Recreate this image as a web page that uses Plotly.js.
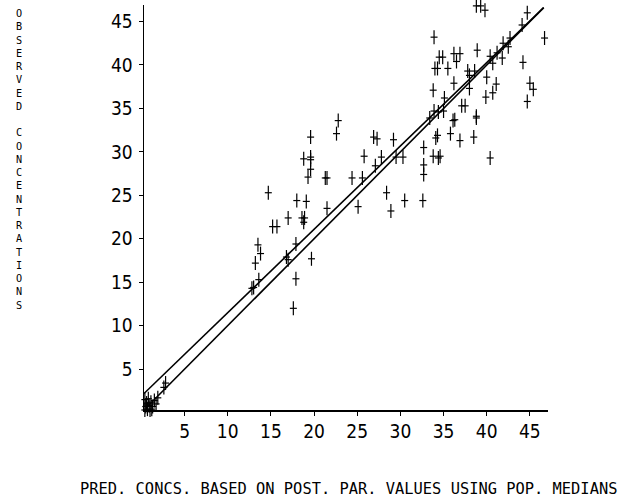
<!DOCTYPE html>
<html>
<head>
<meta charset="utf-8">
<script src="https://cdn.plot.ly/plotly-3.0.1.min.js"></script>
<style>html,body{margin:0;padding:0;background:#fff;}</style>
</head>
<body>
<div id="chart" style="width:622px;height:504px;"></div>
<script>
// Predicted (x) vs observed (y) concentrations
const predX = [
  0.4,0.5,0.7,0.6,0.9,1.0,1.1,1.3,1.5,1.7,0.4,1.9,0.8,1.2,2.8,2.6,
  22.8,22.6,19.6,25.8,18.8,19.6,19.6,19.6,19.3,21.3,21.5,24.4,25.6,14.7,18.0,19.1,21.5,25.1,
  17.0,18.6,18.9,18.8,15.2,15.7,13.5,17.9,13.8,16.8,17.0,19.7,13.2,13.6,17.9,12.8,13.0,17.6,
  33.9,34.5,34.9,36.2,36.9,36.5,34.0,34.3,35.5,36.2,33.8,35.1,
  38.8,39.3,39.8,44.7,44.1,46.7,42.7,41.9,42.5,38.9,41.2,40.4,41.8,40.7,44.2,37.8,38.6,38.0,
  40.0,38.0,41.1,45.0,45.4,40.7,39.9,37.1,37.5,44.7,
  33.9,34.4,35.0,33.4,36.1,36.3,38.8,38.8,
  26.9,27.3,29.2,34.3,34.1,35.8,36.9,38.5,32.7,
  27.8,29.5,30.3,33.8,34.4,34.6,40.4,
  27.1,32.7,32.7,28.4,30.5,32.6,28.9
];
const obsY = [
  0.3,0.7,0.4,1.1,0.8,0.3,1.2,0.7,1.4,1.0,1.5,1.7,1.6,0.4,3.4,2.9,
  33.6,32.1,31.7,29.5,29.2,29.4,29.1,28.0,27.1,27.0,27.0,27.0,27.0,25.3,24.4,24.3,23.5,23.7,
  22.4,22.4,22.4,21.9,21.4,21.4,19.3,19.4,18.3,17.9,17.6,17.7,17.2,15.3,15.4,14.3,14.4,12.0,
  43.2,40.9,40.9,41.3,41.3,40.4,39.6,39.6,39.6,37.9,37.1,36.2,
  46.8,46.8,46.3,46.0,44.6,43.1,43.1,42.5,42.1,41.7,41.4,41.0,40.8,40.2,40.3,39.3,39.3,38.8,
  38.6,37.3,37.8,37.9,37.2,36.8,36.3,35.3,35.3,35.8,
  34.7,34.6,34.7,33.9,33.6,33.7,34.1,33.9,
  31.7,31.5,31.4,31.9,31.6,32.1,31.3,31.7,30.5,
  29.4,29.4,29.4,29.5,29.3,29.5,29.3,
  28.4,28.5,27.4,25.3,24.4,24.4,23.2
];
// Reference lines: identity line and fitted line
const identityX = [0.7, 46.6];
const identityY = [0.7, 46.6];
const fitX = [0.3, 46.6];
const fitY = [2.2, 46.6];
const tickVals = [5,10,15,20,25,30,35,40,45];
const tickText = ['5','10','15','20','25','30','35','40','45'];
const xTitle = 'PRED. CONCS. BASED ON POST. PAR. VALUES USING POP. MEDIANS';
const yTitle = 'OBSERVED CONCENTRATIONS';

const yTitleStacked = yTitle.split('').map(c => c === ' ' ? '\u00a0' : c).join('<br>');

const traces = [
  {x: identityX, y: identityY, mode: 'lines', line: {color: '#000', width: 1.6}, hoverinfo: 'skip'},
  {x: fitX, y: fitY, mode: 'lines', line: {color: '#000', width: 1.6}, hoverinfo: 'skip'},
  {x: predX, y: obsY, mode: 'markers', cliponaxis: false,
   marker: {symbol: 'line-ns', size: 10, line: {color: '#000', width: 1.2}}},
  {x: predX, y: obsY, mode: 'markers', cliponaxis: false,
   marker: {symbol: 'line-ew', size: 5, line: {color: '#000', width: 1.2}}}
];

const axisCommon = {
  showline: true, linecolor: '#000', linewidth: 1.5,
  showgrid: false, zeroline: false,
  ticks: 'outside', ticklen: 4, tickwidth: 1, tickcolor: '#000',
  tickmode: 'array', tickvals: tickVals, ticktext: tickText,
  tickfont: {family: '"Liberation Sans Narrow", "DejaVu Sans Condensed", "DejaVu Sans Mono", monospace', size: 19, color: '#000'}
};

const layout = {
  width: 622, height: 504,
  margin: {l: 144, r: 74, t: 5, b: 94},
  paper_bgcolor: '#fff', plot_bgcolor: '#fff',
  showlegend: false,
  xaxis: Object.assign({}, axisCommon, {range: [0.3, 47.1], ticklabelstandoff: 0}),
  yaxis: Object.assign({}, axisCommon, {range: [0.3, 46.9], ticklabelstandoff: 2}),
  annotations: [
    {text: xTitle, xref: 'paper', yref: 'paper', x: 0.507, y: -0.195,
     xanchor: 'center', yanchor: 'middle', showarrow: false,
     font: {family: '"DejaVu Sans Mono", monospace', size: 15.4, color: '#000'}},
    {text: yTitleStacked, xref: 'paper', yref: 'paper', x: -0.307, y: 0.618,
     xanchor: 'center', yanchor: 'middle', showarrow: false, align: 'center',
     font: {family: '"DejaVu Sans Mono", monospace', size: 10.2, color: '#000'}}
  ]
};

Plotly.newPlot('chart', traces, layout, {displayModeBar: false, staticPlot: true});
</script>
</body>
</html>
